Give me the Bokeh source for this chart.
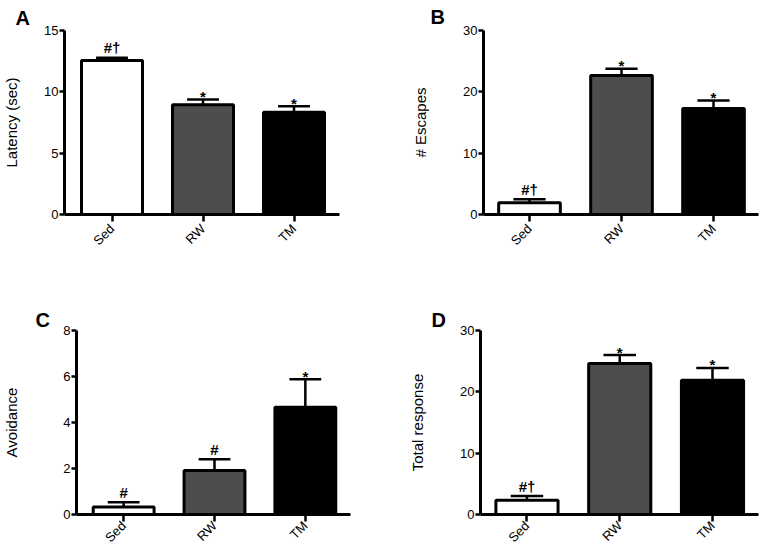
import math
from bokeh.plotting import figure
from bokeh.models import Range1d, FixedTicker, ColumnDataSource
from bokeh.layouts import column, row
from bokeh.embed import file_html
from bokeh.resources import INLINE
from bokeh.core.properties import value

# ---------------- data ----------------
groups = ["Sed", "RW", "TM"]
group_pos = [1, 2, 3]
bar_colors = ["#ffffff", "#4d4d4d", "#000000"]

latency_mean = [12.55, 8.94, 8.34]
latency_sem = [0.22, 0.43, 0.49]
latency_marks = ["#†", "*", "*"]
latency_ticks = [0, 5, 10, 15]

escapes_mean = [1.9, 22.66, 17.3]
escapes_sem = [0.57, 1.09, 1.29]
escapes_marks = ["#†", "*", "*"]
escapes_ticks = [0, 10, 20, 30]

avoid_mean = [0.33, 1.91, 4.66]
avoid_sem = [0.2, 0.49, 1.22]
avoid_marks = ["#", "#", "*"]
avoid_ticks = [0, 2, 4, 6, 8]

total_mean = [2.31, 24.6, 21.9]
total_sem = [0.69, 1.4, 2.0]
total_marks = ["#†", "*", "*"]
total_ticks = [0, 10, 20, 30]

FONT = "Liberation Sans"


def make_panel(letter, ylabel, mean, sem, marks, yticks,
               width, height, borders, xr, label_standoff, letter_offset,
               letter_standoff, xlabel_standoff):
    left, right, top, bottom = borders
    p = figure(width=width, height=height, output_backend="svg",
               toolbar_location=None, title=letter,
               x_range=Range1d(*xr), y_range=Range1d(yticks[0], yticks[-1]),
               min_border_left=left, min_border_right=right,
               min_border_top=top, min_border_bottom=bottom,
               background_fill_color="white", border_fill_color="white")
    p.outline_line_color = None
    p.xgrid.visible = False
    p.ygrid.visible = False

    p.title.text_font = FONT
    p.title.text_font_size = "20px"
    p.title.text_font_style = "bold"
    p.title.text_color = "black"
    p.title.align = "left"
    p.title.offset = letter_offset
    p.title.standoff = letter_standoff

    src = ColumnDataSource(dict(
        x=group_pos, top=mean, color=bar_colors,
        upper=[m + s for m, s in zip(mean, sem)],
        cap0=[x - 0.175 for x in group_pos],
        cap1=[x + 0.175 for x in group_pos],
        marks=marks,
        off=[-3 if m == "*" else -10 for m in marks],
    ))
    p.vbar(x="x", top="top", bottom=0, width=0.67, fill_color="color",
           line_color="black", line_width=3, source=src)
    p.segment(x0="x", y0="top", x1="x", y1="upper", line_color="black",
              line_width=2.5, source=src)
    p.segment(x0="cap0", y0="upper", x1="cap1", y1="upper", line_color="black",
              line_width=2.5, source=src)
    p.text(x="x", y="upper", text="marks", y_offset="off", source=src,
           text_align="center", text_baseline="alphabetic",
           text_font=value(FONT), text_font_size="15px",
           text_font_style="bold", text_color="black")

    for ax in (p.xaxis[0], p.yaxis[0]):
        ax.axis_line_width = 3
        ax.axis_line_color = "black"
        ax.major_tick_line_width = 2.5
        ax.major_tick_line_color = "black"
        ax.major_tick_in = 0
        ax.minor_tick_line_color = None
        ax.major_label_text_font = FONT
        ax.major_label_text_font_size = "13px"
        ax.major_label_text_color = "black"

    xa = p.xaxis[0]
    xa.ticker = FixedTicker(ticks=group_pos)
    xa.major_label_overrides = {x: g for x, g in zip(group_pos, groups)}
    xa.major_label_orientation = math.pi / 4
    xa.major_tick_out = 7
    xa.major_label_standoff = xlabel_standoff

    ya = p.yaxis[0]
    ya.ticker = FixedTicker(ticks=yticks)
    ya.major_tick_out = 5
    ya.major_label_standoff = 1
    ya.axis_label = ylabel
    ya.axis_label_text_font = FONT
    ya.axis_label_text_font_size = "15px"
    ya.axis_label_text_font_style = "normal"
    ya.axis_label_text_color = "black"
    ya.axis_label_standoff = label_standoff
    return p


pa = make_panel("A", "Latency (sec)", latency_mean, latency_sem, latency_marks,
                latency_ticks, 382, 300, (61, 43, 30, 86), (0.478, 3.5), 21,
                -49, 3, 5)
pb = make_panel("B", "# Escapes", escapes_mean, escapes_sem, escapes_marks,
                escapes_ticks, 382, 300, (101, 6, 30, 86), (0.5, 3.489), 31,
                -53, 5, 5)
pc = make_panel("C", "Avoidance", avoid_mean, avoid_sem, avoid_marks,
                avoid_ticks, 382, 253, (71, 32, 30, 37), (0.481, 3.497), 40,
                -41, 0, 2)
pd = make_panel("D", "Total response", total_mean, total_sem, total_marks,
                total_ticks, 382, 253, (98, 6, 30, 37), (0.499, 3.496), 31,
                -49, 0, 2)

layout = column(row(pa, pb), row(pc, pd))
open("out.html", "w").write(file_html(layout, INLINE))
